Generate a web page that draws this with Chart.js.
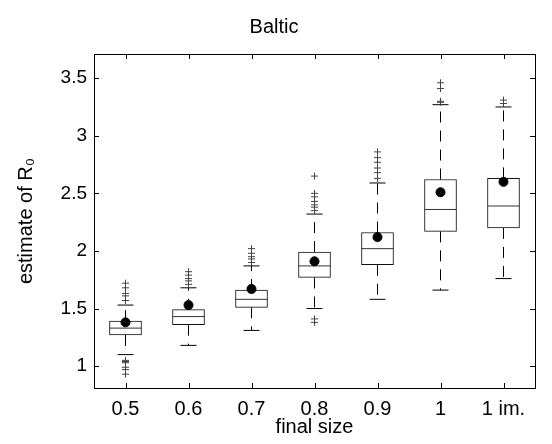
<!DOCTYPE html>
<html>
<head>
<meta charset="utf-8">
<script src="https://cdn.jsdelivr.net/npm/chart.js@4/dist/chart.umd.min.js"></script>
<style>
  html, body { margin: 0; padding: 0; background: #fff; }
  #wrap { width: 552px; height: 444px; }
</style>
</head>
<body>
<div id="wrap"><canvas id="myChart" width="552" height="444"></canvas></div>
<script>
var categories = ['0.5', '0.6', '0.7', '0.8', '0.9', '1', '1 im.'];
var q1 = [1.27, 1.36, 1.51, 1.77, 1.88, 2.17, 2.20];
var q3 = [1.39, 1.49, 1.66, 1.99, 2.16, 2.62, 2.63];
var medians = [1.33, 1.43, 1.58, 1.87, 2.02, 2.36, 2.39];
var means = [1.38, 1.53, 1.67, 1.91, 2.12, 2.51, 2.60];
var whiskerLow = [1.10, 1.18, 1.31, 1.50, 1.58, 1.66, 1.76];
var whiskerHigh = [1.53, 1.68, 1.87, 2.32, 2.59, 3.27, 3.25];
var outliers = [
  [0.93, 0.97, 0.99, 1.03, 1.04, 1.05, 1.57, 1.61, 1.63, 1.68, 1.72],
  [1.71, 1.74, 1.76, 1.79, 1.82],
  [1.90, 1.93, 1.95, 1.98, 2.02],
  [1.38, 1.41, 2.35, 2.38, 2.40, 2.43, 2.47, 2.50, 2.65],
  [2.63, 2.68, 2.72, 2.77, 2.81, 2.86],
  [3.29, 3.30, 3.41, 3.46],
  [3.28, 3.31]
];
var yTicks = [1, 1.5, 2, 2.5, 3, 3.5];

var font = 'Liberation Sans, Arial, Helvetica, sans-serif';

// whiskers: each one starts at the box edge, broken with nulls
var whiskerPts = [];
var capPts = [];
categories.forEach(function (c, i) {
  whiskerPts.push({x: c, y: q3[i]}, {x: c, y: whiskerHigh[i]}, {x: c, y: null});
  whiskerPts.push({x: c, y: q1[i]}, {x: c, y: whiskerLow[i]}, {x: c, y: null});
  capPts.push({x: c, y: whiskerLow[i]}, {x: c, y: whiskerHigh[i]});
});
var outlierPts = [];
outliers.forEach(function (list, i) {
  list.forEach(function (v) { outlierPts.push({x: categories[i], y: v}); });
});

// frame + inward ticks, like a matlab axes box
var frame = {
  id: 'frame',
  afterDraw: function (chart) {
    var a = chart.chartArea, ctx = chart.ctx;
    var xs = chart.scales.x, ys = chart.scales.y;
    ctx.save();
    ctx.strokeStyle = '#000';
    ctx.lineWidth = 1;
    ctx.strokeRect(Math.round(a.left) + 0.5, Math.round(a.top) + 0.5,
      Math.round(a.right - a.left), Math.round(a.bottom - a.top));
    ctx.beginPath();
    xs.ticks.forEach(function (t, i) {
      var px = Math.round(xs.getPixelForTick(i)) + 0.5;
      ctx.moveTo(px, a.bottom); ctx.lineTo(px, a.bottom - 5);
      ctx.moveTo(px, a.top); ctx.lineTo(px, a.top + 5);
    });
    ys.ticks.forEach(function (t, i) {
      var py = Math.round(ys.getPixelForTick(i)) + 0.5;
      ctx.moveTo(a.left, py); ctx.lineTo(a.left + 5, py);
      ctx.moveTo(a.right, py); ctx.lineTo(a.right - 5, py);
    });
    ctx.stroke();
    ctx.restore();
  }
};

var ctx = document.getElementById('myChart').getContext('2d');
var chart = new Chart(ctx, {
  type: 'bar',
  data: {
    labels: categories,
    datasets: [
      {
        type: 'line', label: 'mean',
        data: categories.map(function (c, i) { return {x: c, y: means[i]}; }),
        showLine: false, pointStyle: 'circle', pointRadius: 4.5,
        pointBackgroundColor: '#000', pointBorderColor: '#000', order: 0
      },
      {
        type: 'line', label: 'median',
        data: categories.map(function (c, i) { return {x: c, y: medians[i]}; }),
        showLine: false, pointStyle: 'line', pointRadius: 16, pointBorderWidth: 1,
        pointBorderColor: '#333', order: 1
      },
      {
        type: 'bar', label: 'box',
        data: categories.map(function (c, i) { return [q1[i], q3[i]]; }),
        backgroundColor: '#fff', borderColor: '#111', borderWidth: 1,
        borderSkipped: false, barThickness: 32, grouped: false, order: 2
      },
      {
        type: 'line', label: 'outliers', data: outlierPts,
        showLine: false, pointStyle: 'cross', pointRadius: 3.5, pointBorderWidth: 1,
        pointBorderColor: '#444', order: 3
      },
      {
        type: 'line', label: 'caps', data: capPts,
        showLine: false, pointStyle: 'line', pointRadius: 8, pointBorderWidth: 1,
        pointBorderColor: '#000', order: 4
      },
      {
        type: 'line', label: 'whiskers', data: whiskerPts,
        spanGaps: false, pointRadius: 0, borderColor: '#000', borderWidth: 1,
        borderDash: [11, 8], order: 5
      }
    ]
  },
  options: {
    responsive: false,
    animation: false,
    events: [],
    layout: { padding: { left: 0, right: 4, top: 0, bottom: 0 } },
    plugins: {
      legend: { display: false },
      tooltip: { enabled: false },
      title: {
        display: true, text: 'Baltic', color: '#000',
        font: { family: font, size: 20, weight: 'normal' },
        padding: { top: 15, bottom: 15 }
      }
    },
    scales: {
      x: {
        grid: { display: false, drawTicks: false },
        border: { display: false },
        ticks: { color: '#000', padding: 9, font: { family: font, size: 20 } },
        title: { display: true, text: 'final size', color: '#000',
          font: { family: font, size: 20 }, padding: { top: 0, bottom: 5 } },
        afterFit: function (s) { s.height = 56; }
      },
      y: {
        min: 0.81, max: 3.71,
        grid: { display: false, drawTicks: false },
        border: { display: false },
        afterBuildTicks: function (s) { s.ticks = yTicks.map(function (v) { return {value: v}; }); },
        ticks: { color: '#000', padding: 7, font: { family: font, size: 19 },
          callback: function (v) { return String(v); } },
        title: { display: true, text: 'estimate of R₀', color: '#000',
          font: { family: font, size: 20 }, padding: { top: 14, bottom: 0 } },
        afterFit: function (s) { s.width = 94; }
      }
    }
  },
  plugins: [frame]
});
</script>
</body>
</html>
